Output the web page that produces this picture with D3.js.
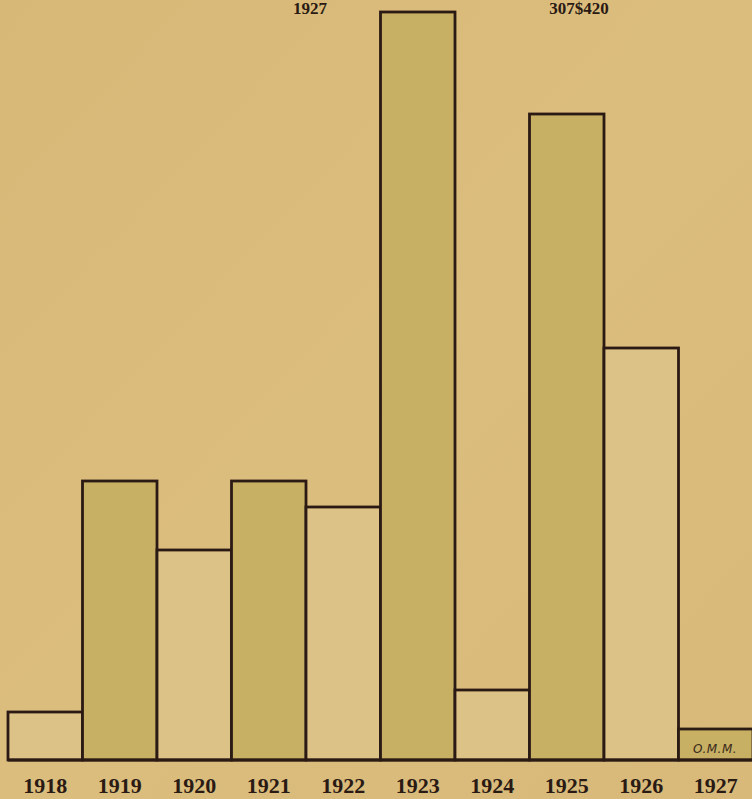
<!DOCTYPE html>
<html>
<head>
<meta charset="utf-8">
<script src="https://cdn.jsdelivr.net/npm/d3@7"></script>
<style>
html,body{margin:0;padding:0;background:#d9b977;overflow:hidden;}
svg{display:block;}
</style>
</head>
<body>
<svg id="chart" width="752" height="799"></svg>
<script>
const years = ["1918","1919","1920","1921","1922","1923","1924","1925","1926","1927"];
const values = [48, 279, 210, 279, 253, 748, 70, 646, 412, 31];
const shaded = [false, true, false, true, false, true, false, true, false, true];
const headerTexts = ["1927", "307$420"];
const signature = "O.M.M.";

const svg = d3.select("#chart");
const W = 752, H = 799;

const defs = svg.append("defs");
const g0 = defs.append("linearGradient").attr("id","paper").attr("x1","0").attr("y1","0").attr("x2","1").attr("y2","1");
g0.append("stop").attr("offset","0%").attr("stop-color","#d8b877");
g0.append("stop").attr("offset","50%").attr("stop-color","#dbbd7d");
g0.append("stop").attr("offset","100%").attr("stop-color","#d8b979");
svg.append("rect").attr("width",W).attr("height",H).attr("fill","url(#paper)");

const x = d3.scaleBand().domain(years).range([8, 8 + 74.5*10]).padding(0);
const y = d3.scaleLinear().domain([0, 750]).range([760, 10]);

const data = years.map((yr,i)=>({year:yr, value:values[i], shaded:shaded[i]}));

svg.append("g").selectAll("rect").data(data).join("rect")
  .attr("x", d=>x(d.year))
  .attr("y", d=>y(d.value))
  .attr("width", x.bandwidth())
  .attr("height", d=>y(0)-y(d.value))
  .attr("fill", d=>d.shaded ? "#c7b063" : "#dcc286")
  .attr("stroke", "#2b1a14")
  .attr("stroke-width", 2.8);

svg.append("line").attr("x1", x.range()[0]).attr("x2", W).attr("y1", y(0)).attr("y2", y(0))
  .attr("stroke","#2b1a14").attr("stroke-width",3);

const axis = d3.axisBottom(x).tickSize(0).tickPadding(0);
const ax = svg.append("g").attr("transform", `translate(0, ${y(0)})`).call(axis);
ax.select(".domain").remove();
ax.selectAll("text")
  .attr("dy", null).attr("y", 33)
  .attr("font-family", "'Liberation Serif', 'DejaVu Serif', serif")
  .attr("font-weight", "bold")
  .attr("font-size", 22)
  .attr("fill", "#2a1a14");

svg.append("text").attr("x", 310).attr("y", 14).attr("text-anchor","middle")
  .attr("font-family","'Liberation Serif', serif").attr("font-weight","bold").attr("font-size",17)
  .attr("fill","#2a1a14").text(headerTexts[0]);
svg.append("text").attr("x", 579).attr("y", 14).attr("text-anchor","middle")
  .attr("font-family","'Liberation Serif', serif").attr("font-weight","bold").attr("font-size",17)
  .attr("fill","#2a1a14").text(headerTexts[1]);

svg.append("text").attr("x", 715).attr("y", 753).attr("text-anchor","middle")
  .attr("font-family","'DejaVu Sans', sans-serif").attr("font-style","italic").attr("font-size",12)
  .attr("letter-spacing", 0.5)
  .attr("fill","#3a2a1c").text(signature);
</script>
</body>
</html>
